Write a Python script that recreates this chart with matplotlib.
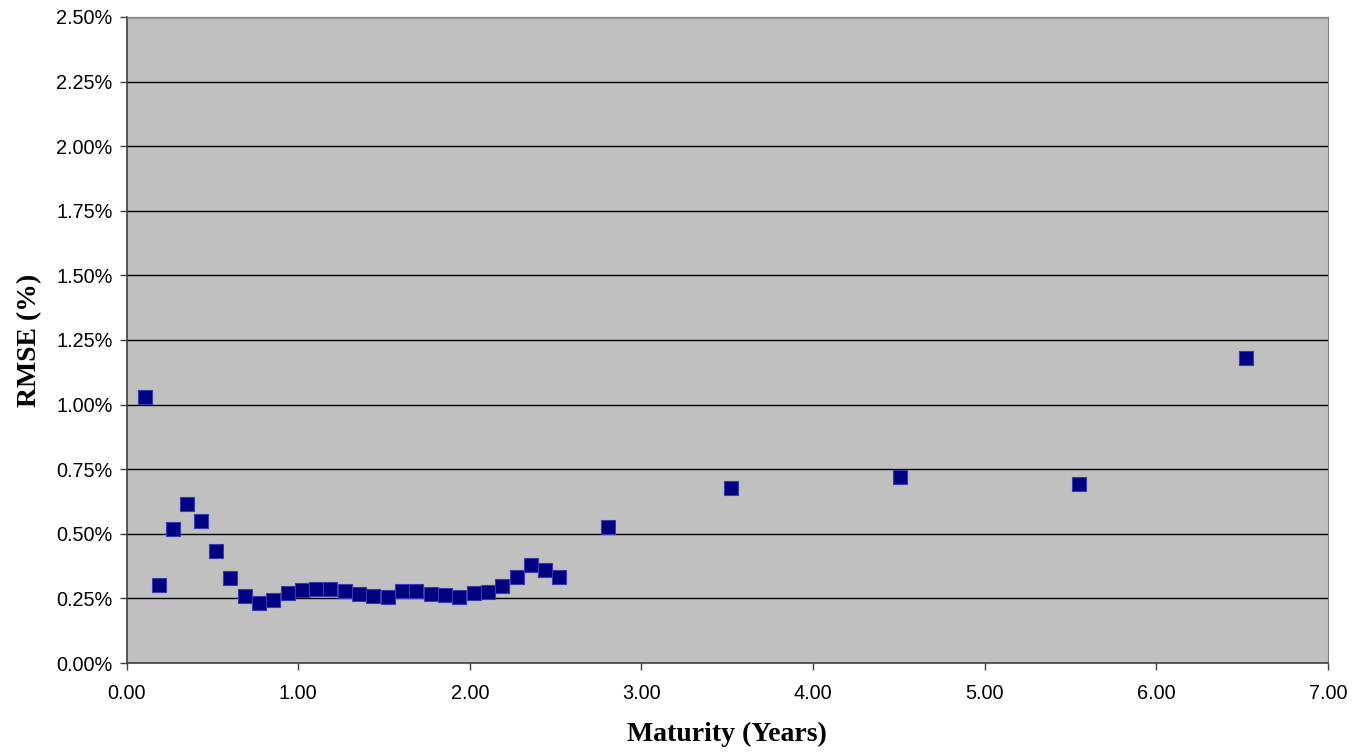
import numpy as np
import matplotlib.pyplot as plt
from matplotlib.ticker import FuncFormatter, MultipleLocator

# maturity (years) and RMSE (%)
maturity = [0.108, 0.189, 0.271, 0.352, 0.434, 0.521, 0.603, 0.690, 0.772, 0.853,
            0.940, 1.022, 1.104, 1.185, 1.272, 1.354, 1.435, 1.523, 1.604, 1.686,
            1.773, 1.855, 1.936, 2.024, 2.105, 2.187, 2.274, 2.356, 2.438, 2.519,
            2.804, 3.521, 4.505, 5.548, 6.520]
rmse = [1.029, 0.302, 0.518, 0.615, 0.549, 0.433, 0.329, 0.259, 0.232, 0.244,
        0.271, 0.282, 0.286, 0.286, 0.278, 0.267, 0.259, 0.255, 0.278, 0.278,
        0.267, 0.263, 0.255, 0.271, 0.275, 0.298, 0.333, 0.379, 0.360, 0.333,
        0.526, 0.677, 0.719, 0.692, 1.179]

fig = plt.figure(figsize=(13.53, 7.53), dpi=100)
ax = fig.add_axes([0.0935, 0.1195, 0.888, 0.858])
ax.set_facecolor('#c0c0c0')

ax.scatter(maturity, rmse, marker='s', s=110, color='#000080',
           edgecolors='#3a3ab0', linewidths=0.8, zorder=3)

ax.set_xlim(0, 7)
ax.set_ylim(0, 2.5)
ax.xaxis.set_major_locator(MultipleLocator(1))
ax.yaxis.set_major_locator(MultipleLocator(0.25))
ax.xaxis.set_major_formatter(FuncFormatter(lambda v, p: '%.2f' % v))
ax.yaxis.set_major_formatter(FuncFormatter(lambda v, p: '%.2f%%' % v))

ax.grid(axis='y', color='black', linewidth=1.0, zorder=1)
ax.set_axisbelow(True)

for s in ['top', 'right']:
    ax.spines[s].set_color('#808080')
for s in ['left', 'bottom']:
    ax.spines[s].set_color('#404040')
    ax.spines[s].set_linewidth(1.2)

ax.tick_params(direction='out', length=5, width=1, color='#404040',
               labelsize=14.3)
ax.tick_params(axis='x', pad=10)
ax.tick_params(axis='y', pad=5)
for lab in ax.get_xticklabels() + ax.get_yticklabels():
    lab.set_family('Liberation Sans')

ax.set_xlabel('Maturity (Years)', family='Liberation Serif', fontweight='bold',
              fontsize=20, labelpad=14)
ax.set_ylabel('RMSE (%)', family='Liberation Serif', fontweight='bold',
              fontsize=20, labelpad=10)

fig.savefig('out.png', dpi=100)
